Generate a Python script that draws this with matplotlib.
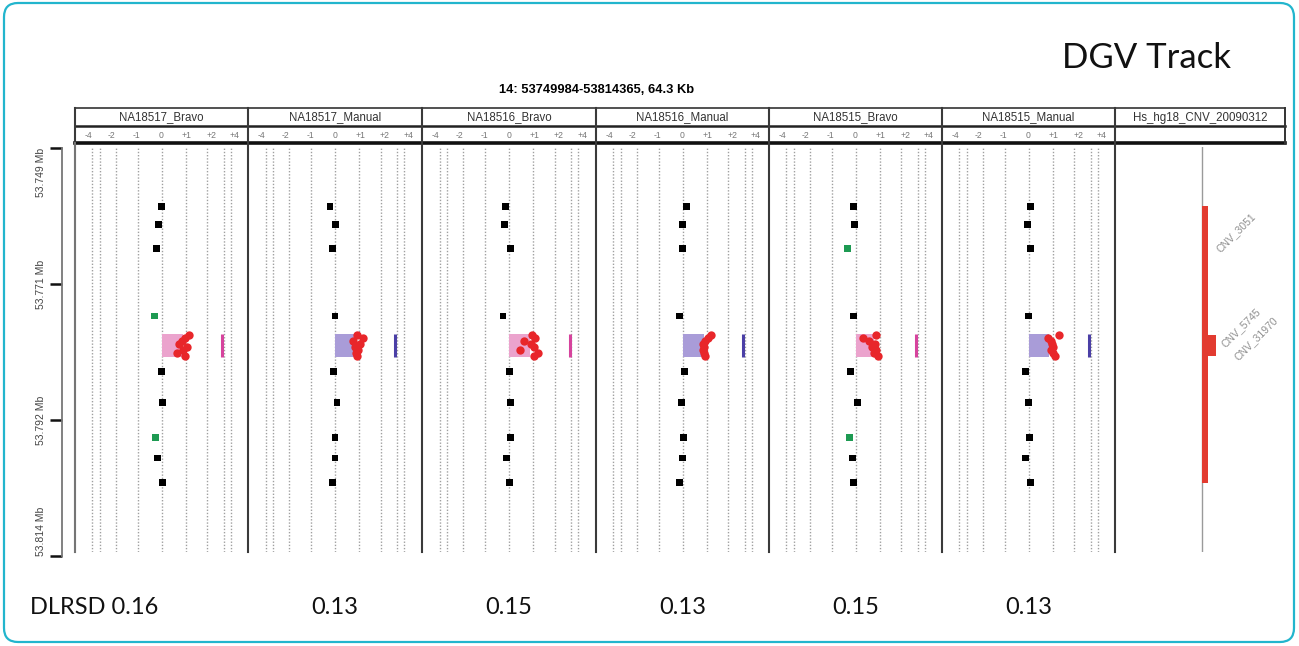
import matplotlib
matplotlib.use("Agg")
import matplotlib.pyplot as plt
import matplotlib.transforms as mtransforms
from matplotlib.patches import Rectangle, FancyBboxPatch

W, H = 1299, 646

# region shown (Mb) and the y scale ticks
region_start, region_end = 53.749984, 53.814365
y_ticks = [53.749984, 53.771444, 53.792905, 53.814365]
y_tick_labels = ["53.749 Mb", "53.771 Mb", "53.792 Mb", "53.814 Mb"]

panel_names = ["NA18517_Bravo", "NA18517_Manual", "NA18516_Bravo",
               "NA18516_Manual", "NA18515_Bravo", "NA18515_Manual"]
dlrsd = ["DLRSD 0.16", "0.13", "0.15", "0.13", "0.15", "0.13"]

# log-ratio scale of each sample track
scale_labels = ["-4", "-2", "-1", "0", "+1", "+2", "+4"]
scale_pos = [-2.93, -2.0, -1.0, 0, 1.0, 2.0, 2.93]
grid_pos = [-2.77, -2.48, -1.83, -0.96, 0, 0.96, 1.83, 2.48, 2.77]

# probes outside the call
probe_mb = [53.7592, 53.7620, 53.7659, 53.7765, 53.7852,
            53.7901, 53.7957, 53.7989, 53.8028]
probe_x = [
    [0.00, -0.11, -0.20, -0.28, 0.00, 0.04, -0.23, -0.15, 0.04],
    [-0.20, 0.01, -0.10, 0.00, -0.05, 0.08, 0.00, 0.00, -0.10],
    [-0.15, -0.19, 0.07, -0.24, 0.01, 0.07, 0.07, -0.09, 0.01],
    [0.15, 0.00, 0.00, -0.13, 0.09, -0.05, 0.05, 0.00, -0.13],
    [-0.09, -0.05, -0.31, -0.09, -0.19, 0.09, -0.24, -0.13, -0.09],
    [0.09, -0.05, 0.09, 0.00, -0.11, 0.00, 0.04, -0.11, 0.09],
]
probe_green = [[3, 6], [], [], [], [2, 6], []]

# probes inside the called gain
cnv_probe_mb = [53.7795, 53.7800, 53.7804, 53.7809, 53.7814, 53.7819, 53.7823, 53.7828]
cnv_probe_x = [
    [1.10, 0.95, 0.80, 0.70, 1.00, 0.85, 0.60, 0.93],
    [0.87, 1.13, 0.73, 1.00, 0.80, 0.93, 0.84, 0.89],
    [0.92, 1.05, 0.61, 0.88, 1.01, 0.45, 1.15, 1.01],
    [1.13, 1.00, 0.91, 0.83, 0.87, 0.83, 0.87, 0.91],
    [0.81, 0.28, 0.52, 0.79, 0.65, 0.81, 0.72, 0.89],
    [1.20, 0.77, 0.88, 0.93, 0.97, 0.91, 0.97, 1.04],
]
seg_start, seg_end = 53.7793, 53.7829
seg_value = [0.85, 0.75, 0.85, 0.85, 0.72, 0.80]
call_mark = [2.42, 2.41, 2.44, 2.43, 2.41, 2.40]

# DGV track
dgv_names = ["CNV_3051", "CNV_5745", "CNV_31970"]
dgv_start = [53.7592, 53.7795, 53.7795]
dgv_end = [53.8028, 53.7828, 53.7828]
dgv_lane = [0, 1, 2]
dgv_label_x = [121, 126, 141]
dgv_label_mb = [53.7634, 53.7784, 53.7800]

# layout (pixels)
bounds = [75, 248, 422, 596, 769, 942, 1115, 1285]
hdr_top, hdr_mid, hdr_bot = 108, 126, 143
plot_top, plot_bot = 147, 552
mb_per_px = (region_end - region_start) / (556 - 148)
ylim_top = region_start - (148 - plot_top) * mb_per_px
ylim_bot = region_start + (plot_bot - 148) * mb_per_px


def px_rect(x0, y0, x1, y1):
    return [x0 / W, 1 - y1 / H, (x1 - x0) / W, (y1 - y0) / H]


fig = plt.figure(figsize=(W / 100, H / 100), dpi=100)

# overlay in pixel coordinates for frame, header boxes and texts
ov = fig.add_axes([0, 0, 1, 1], zorder=0)
ov.set_xlim(0, W)
ov.set_ylim(H, 0)
ov.axis("off")

ov.add_patch(FancyBboxPatch((4, 3), W - 9, H - 7,
                            boxstyle="round,pad=0,rounding_size=14",
                            fill=False, ec="#22b5cd", lw=1.6))
ov.text(1147, 58, "DGV Track", fontsize=25, family="Lato",
        ha="center", va="center", color="#111111")
ov.text(597, 90, "14: 53749984-53814365, 64.3 Kb", fontsize=9.3,
        family="Liberation Sans", weight="bold", ha="center", va="center")

# header boxes
x0, x1 = bounds[0], bounds[-1]
ov.plot([x0, x1], [hdr_top, hdr_top], color="#333333", lw=1.2)
ov.plot([x0, x1], [hdr_mid, hdr_mid], color="#222222", lw=1.8)
ov.plot([x0, x1], [hdr_bot, hdr_bot], color="#111111", lw=2.6)
for b in bounds[:-1]:
    ov.plot([b, b], [hdr_top, plot_bot], color="#3a3a3a", lw=1.5)
ov.plot([x1, x1], [hdr_top, hdr_bot], color="#333333", lw=1.4)
ov.plot([bounds[0], bounds[0]], [hdr_bot, plot_bot], color="#777777", lw=1.4)

# y scale
ay = fig.add_axes(px_rect(62, 148, 63, 556), zorder=1)
ay.set_ylim(region_end, region_start)
ay.set_xlim(0, 1)
for s in ["top", "right", "bottom"]:
    ay.spines[s].set_visible(False)
ay.spines["left"].set_color("#777777")
ay.spines["left"].set_linewidth(1.3)
ay.set_xticks([])
ay.set_yticks(y_ticks, labels=[""] * len(y_ticks))
ay.tick_params(axis="y", length=9, width=1.8, color="#111111", direction="out")
ay.patch.set_alpha(0)
for v, lab, va in zip(y_ticks, y_tick_labels, ["top", "center", "center", "bottom"]):
    ay.annotate(lab, xy=(0, v), xycoords=("axes fraction", "data"),
                xytext=(-15, 0), textcoords="offset points", rotation=90,
                ha="center", va=va, fontsize=7.5, family="Liberation Sans",
                color="#444444")

# sample tracks
for i, name in enumerate(panel_names):
    left, right = bounds[i], bounds[i + 1]
    ax = fig.add_axes(px_rect(left, plot_top, right, plot_bot), zorder=2)
    half = (right - left) / 2 / 25
    ax.set_xlim(-half, half)
    ax.set_ylim(ylim_bot, ylim_top)
    ax.axis("off")

    for g in grid_pos:
        ax.axvline(g, color="#a0a0a0", lw=1.0, ls=(0, (1, 1.3)), zorder=0)

    bravo = name.endswith("_Bravo")
    fill = "#eba3cd" if bravo else "#a99cd8"
    mark = "#d6439d" if bravo else "#4b3fa6"
    ax.add_patch(Rectangle((0, seg_start), seg_value[i], seg_end - seg_start,
                           color=fill, lw=0, zorder=1))
    ax.plot([call_mark[i], call_mark[i]], [seg_start, seg_end], color=mark,
            lw=2.2, solid_capstyle="butt", zorder=2)

    colors = ["#1d9a52" if k in probe_green[i] else "#000000"
              for k in range(len(probe_mb))]
    ax.scatter(probe_x[i], probe_mb, c=colors, marker="s", s=24, lw=0, zorder=3)
    ax.scatter(cnv_probe_x[i], cnv_probe_mb, c="#e8262a", marker="o", s=36,
               lw=0, zorder=3)

    # header texts placed with the track's own x scale
    tr = mtransforms.blended_transform_factory(ax.transData, ov.transData)
    ov.text(0, (hdr_top + hdr_mid) / 2 + 0.5, name, transform=tr, ha="center",
            va="center", fontsize=8.3, family="Liberation Sans", color="#333333")
    for p, lab in zip(scale_pos, scale_labels):
        ov.text(p, (hdr_mid + hdr_bot) / 2 + 0.5, lab, transform=tr,
                ha="center", va="center", fontsize=6.2, family="Liberation Sans",
                color="#777777")

    tr_ax = mtransforms.blended_transform_factory(ax.transAxes, ov.transData)
    if i == 0:
        ov.text(30, 608, dlrsd[i], ha="left", va="center", fontsize=17,
                family="Lato", color="#111111")
    else:
        ov.text(0.5, 608, dlrsd[i], transform=tr_ax, ha="center", va="center",
                fontsize=17, family="Lato", color="#111111")

# DGV track
left, right = bounds[-2], bounds[-1]
ad = fig.add_axes(px_rect(left, plot_top, right, plot_bot), zorder=2)
ad.set_xlim(0, right - left)
ad.set_ylim(ylim_bot, ylim_top)
ad.axis("off")
ad.axvline(86.7, color="#9a9a9a", lw=1.0, zorder=0)
for k, nm in enumerate(dgv_names):
    lane = dgv_lane[k]
    xl = 87.3 if lane == 0 else 92.5 + (lane - 1) * 4
    wd = 5.2 if lane == 0 else 4.2
    ad.bar(xl, dgv_end[k] - dgv_start[k], bottom=dgv_start[k], width=wd,
           align="edge", color="#e23b30", lw=0, zorder=2)
    ad.text(dgv_label_x[k], dgv_label_mb[k], nm, rotation=45, ha="center",
            va="center", fontsize=7.5, family="Liberation Sans", color="#8f8f8f")

tr = mtransforms.blended_transform_factory(ad.transAxes, ov.transData)
ov.text(0.5, (hdr_top + hdr_mid) / 2 + 0.5, "Hs_hg18_CNV_20090312", transform=tr,
        ha="center", va="center", fontsize=8.3, family="Liberation Sans",
        color="#333333")

fig.savefig("out.png", dpi=100)
